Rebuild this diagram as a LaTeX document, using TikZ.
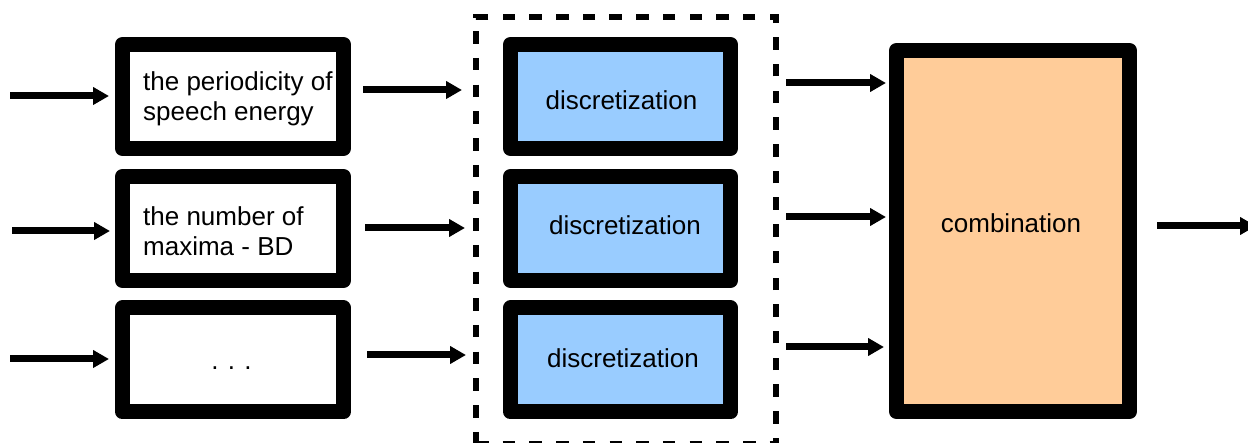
\documentclass[tikz,border=0pt]{standalone}
\usepackage{fontspec}
\setmainfont{Liberation Sans}
\usetikzlibrary{arrows.meta}
\definecolor{discblue}{RGB}{153,204,255}
\definecolor{combpeach}{RGB}{255,204,153}
\begin{document}
\begin{tikzpicture}[x=1pt,y=-1pt,
  block/.style={draw=black, line width=15pt, line join=round, rectangle,
    minimum width=221pt, minimum height=104pt, inner sep=0pt, fill=white},
  discbox/.style={block, fill=discblue, minimum width=220pt},
  lbl/.style={inner sep=0pt, font=\fontsize{26}{30}\selectfont, anchor=base},
  lbll/.style={lbl, anchor=base west},
  arr/.style={line width=7pt, -{Triangle[length=16pt,width=17pt]}},
  group/.style={draw=black, line width=6pt, dash pattern=on 12.5pt off 14.2pt,
    rectangle, minimum width=300pt, minimum height=427pt, inner sep=0pt}
]
\useasboundingbox (0,0) rectangle (1248,443);

% dashed frame around the discretization stage
\node[group] (grp) at (626,230.5) {};

% feature boxes
\node[block] (b1) at (233,96.5) {};
\node[block] (b2) at (233,228.5) {};
\node[block] (b3) at (233,360) {};
\node[lbll] (t1a) at (143,91) {the periodicity of};
\node[lbll] (t1b) at (143,121) {speech energy};
\node[lbll] (t2a) at (143,226) {the number of};
\node[lbll] (t2b) at (143,256) {maxima - BD};
\node[lbl] (t3) at (231.5,370) {.\hspace{9.3pt}.\hspace{9.3pt}.};

% discretization boxes
\node[discbox] (dA) at (620.5,96.5) {};
\node[discbox] (dB) at (620.5,228.5) {};
\node[discbox] (dC) at (620.5,360) {};
\node[lbl] (tA) at (621.5,110) {discretization};
\node[lbl] (tB) at (625,235) {discretization};
\node[lbl] (tC) at (623,368) {discretization};

% combination box
\node[block, fill=combpeach, minimum width=233pt, minimum height=361pt] (comb) at (1013,231) {};
\node[lbl] (tcomb) at (1011,233) {combination};

% inputs
\coordinate (in1) at (10,96);
\coordinate (in2) at (12,231);
\coordinate (in3) at (10,359);
\draw[arr, shorten >=6pt] (in1) -- (in1 -| b1.west);
\draw[arr, shorten >=5pt] (in2) -- (in2 -| b2.west);
\draw[arr, shorten >=6pt] (in3) -- (in3 -| b3.west);

% features into the discretization stage
\draw[arr, shorten <=12pt, shorten >=11pt] ([yshift=6.5pt]b1.east) -- ([yshift=6.5pt]b1.east -| grp.west);
\draw[arr, shorten <=14pt, shorten >=8pt] ([yshift=0.5pt]b2.east) -- ([yshift=0.5pt]b2.east -| grp.west);
\draw[arr, shorten <=16pt, shorten >=7pt] ([yshift=5pt]b3.east) -- ([yshift=5pt]b3.east -| grp.west);

% discretized features into the combination
\draw[arr, shorten <=7pt, shorten >=3pt] ([yshift=13.5pt]dA.east -| grp.east) -- ([yshift=13.5pt]dA.east -| comb.west);
\draw[arr, shorten <=7pt, shorten >=3pt] ([yshift=11.5pt]dB.east -| grp.east) -- ([yshift=11.5pt]dB.east -| comb.west);
\draw[arr, shorten <=7pt, shorten >=5pt] ([yshift=13pt]dC.east -| grp.east) -- ([yshift=13pt]dC.east -| comb.west);

% output
\coordinate (out) at (1256,226);
\draw[arr, shorten <=20pt] ([yshift=5pt]comb.east) -- (out);
\end{tikzpicture}
\end{document}
